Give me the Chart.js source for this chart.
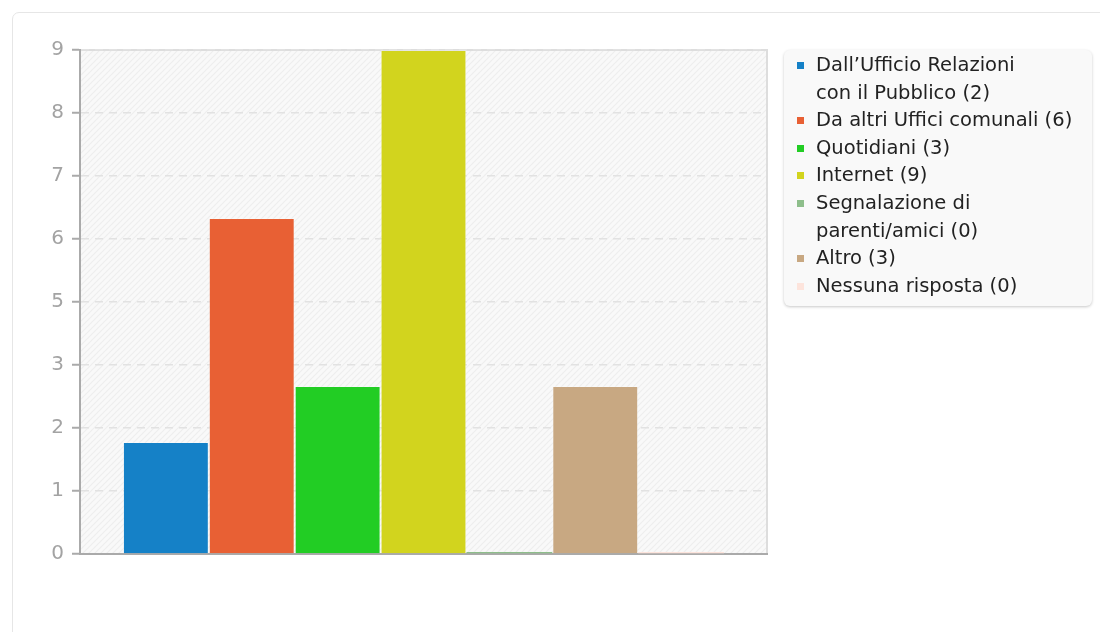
<!DOCTYPE html>
<html>
<head>
<meta charset="utf-8">
<script src="https://cdn.jsdelivr.net/npm/chart.js@4"></script>
<style>
  html, body { margin: 0; padding: 0; background: #fff; width: 1100px; height: 632px; overflow: hidden; font-family: "DejaVu Sans", sans-serif; }
  .card { position: absolute; left: 12px; top: 12px; width: 1200px; height: 700px; border: 1px solid #e6e6e6; border-radius: 7px; }
  .plot { position: absolute; left: 0; top: 0; width: 780px; height: 632px; }
  .legend { position: absolute; left: 784px; top: 50px; width: 308px; box-sizing: border-box; padding: 1px 6px 7px 12px;
    background: #f9f9f9; border-radius: 6px; box-shadow: 0 1px 3px rgba(0,0,0,.22); }
  .legend .row { position: relative; padding-left: 20px; font-size: 19.5px; line-height: 27.6px; color: #222; white-space: nowrap; }
  .legend .sw { position: absolute; left: 1px; top: 11px; width: 7px; height: 7px; }
</style>
</head>
<body>
<div class="card"></div>
<div class="plot"><canvas id="chart"></canvas></div>
<div class="legend" id="legend"></div>
<script>
var categories = [
  ["Dall\u2019Ufficio Relazioni", "con il Pubblico"],
  ["Da altri Uffici comunali"],
  ["Quotidiani"],
  ["Internet"],
  ["Segnalazione di", "parenti/amici"],
  ["Altro"],
  ["Nessuna risposta"]
];
var values = [2, 6, 3, 9, 0, 3, 0];
var colors = ["#1581c7", "#e86034", "#22cd24", "#d2d41e", "#8ebe8b", "#c8a882", "#fde4dc"];
var yTicks = [0, 1.125, 2.25, 3.375, 4.5, 5.625, 6.75, 7.875, 9];

(function () {
  function makePattern() {
    var c = document.createElement("canvas");
    c.width = 6; c.height = 6;
    var g = c.getContext("2d");
    g.fillStyle = "#f9f9f9";
    g.fillRect(0, 0, 6, 6);
    g.strokeStyle = "#eeeeee";
    g.lineWidth = 1.2;
    g.beginPath();
    g.moveTo(-1, 7); g.lineTo(7, -1);
    g.moveTo(-1, 1); g.lineTo(1, -1);
    g.moveTo(5, 7); g.lineTo(7, 5);
    g.stroke();
    return c;
  }

  var plotBg = {
    id: "plotBg",
    beforeDraw: function (chart) {
      var a = chart.chartArea, ctx = chart.ctx;
      ctx.save();
      ctx.fillStyle = ctx.createPattern(makePattern(), "repeat");
      ctx.fillRect(a.left, a.top, a.right - a.left, a.bottom - a.top);
      ctx.strokeStyle = "#dddddd";
      ctx.lineWidth = 2;
      ctx.beginPath();
      ctx.moveTo(a.left, a.top);
      ctx.lineTo(a.right, a.top);
      ctx.lineTo(a.right, a.bottom);
      ctx.stroke();
      ctx.restore();
    }
  };

  var datasets = values.map(function (v, i) {
    return {
      label: categories[i].join(" "),
      data: [v],
      backgroundColor: colors[i],
      borderColor: "rgba(255,255,255,0.22)",
      borderWidth: v ? 1 : 0,
      minBarLength: 2
    };
  });

  new Chart(document.getElementById("chart"), {
    type: "bar",
    data: { labels: [""], datasets: datasets },
    options: {
      responsive: true,
      maintainAspectRatio: false,
      animation: false,
      datasets: { bar: { categoryPercentage: 0.875, barPercentage: 1 } },
      layout: { padding: { left: 20, top: 50, right: 13, bottom: 78 } },
      plugins: { legend: { display: false }, tooltip: { enabled: false } },
      scales: {
        x: {
          ticks: { display: false },
          grid: { display: false, drawTicks: false },
          border: { display: true, color: "#aaaaaa", width: 2 },
          afterFit: function (s) { s.height = 0; }
        },
        y: {
          min: 0,
          max: 9,
          afterBuildTicks: function (s) { s.ticks = yTicks.map(function (v) { return { value: v }; }); },
          ticks: {
            padding: 8,
            color: "#a3a3a3",
            font: { family: "DejaVu Sans", size: 20 },
            callback: function (v) { return Math.round(v); }
          },
          grid: { color: "#e2e2e2", lineWidth: 1.5, tickLength: 8, tickColor: "#aaaaaa", tickWidth: 2 },
          border: { display: true, color: "#aaaaaa", width: 2, dash: [8, 6] },
          afterFit: function (s) { s.width = 60; }
        }
      }
    },
    plugins: [plotBg]
  });

  var legend = document.getElementById("legend");
  categories.forEach(function (lines, i) {
    var row = document.createElement("div");
    row.className = "row";
    var sw = document.createElement("span");
    sw.className = "sw";
    sw.style.background = colors[i];
    row.appendChild(sw);
    var text = lines.slice();
    text[text.length - 1] += " (" + values[i] + ")";
    text.forEach(function (t, j) {
      if (j) row.appendChild(document.createElement("br"));
      row.appendChild(document.createTextNode(t));
    });
    legend.appendChild(row);
  });
})();
</script>
</body>
</html>
